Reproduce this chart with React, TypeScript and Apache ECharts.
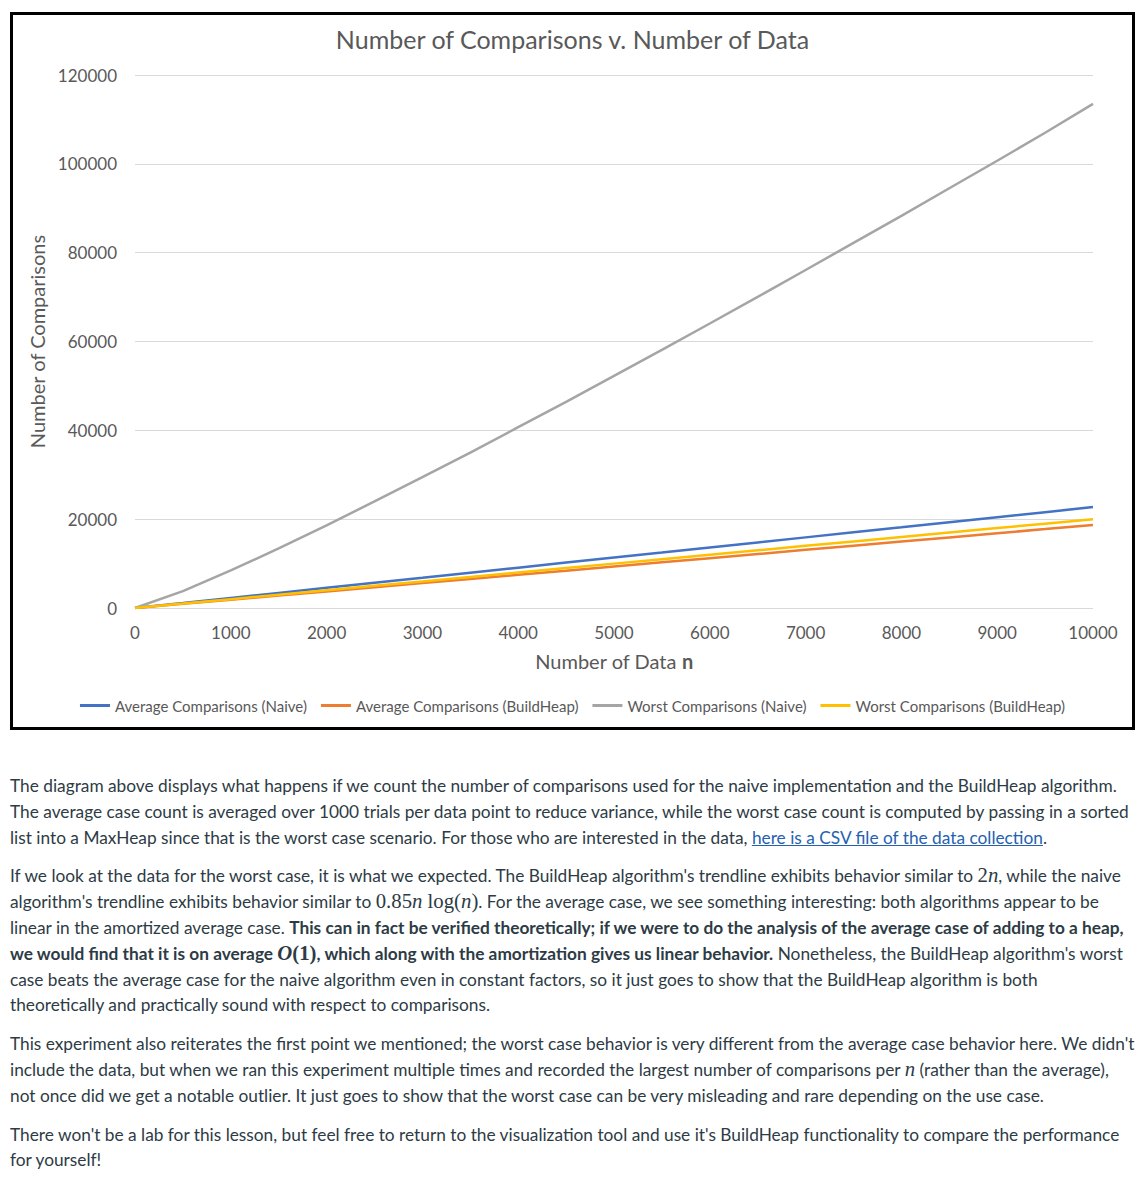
import React, { useEffect, useRef } from "react";
import * as echarts from "echarts";

const xValues = [0, 500, 1000, 1500, 2000, 2500, 3000, 3500, 4000, 4500, 5000, 5500, 6000, 6500, 7000, 7500, 8000, 8500, 9000, 9500, 10000];
const avgNaive = [0, 1130, 2270, 3400, 4540, 5680, 6810, 7950, 9080, 10220, 11360, 12490, 13630, 14760, 15900, 17040, 18170, 19310, 20440, 21580, 22720];
const avgBuildHeap = [0, 935, 1870, 2800, 3740, 4670, 5610, 6540, 7480, 8410, 9350, 10280, 11220, 12150, 13090, 14020, 14960, 15890, 16830, 17760, 18700];
const worstNaive = [0, 3800, 8450, 13400, 18600, 24000, 29450, 35000, 40700, 46400, 52250, 58100, 64050, 70050, 76100, 82200, 88300, 94500, 100700, 107000, 113500];
const worstBuildHeap = [0, 990, 1990, 2990, 3990, 4990, 5990, 6990, 7990, 8990, 9990, 10990, 11990, 12990, 13990, 14990, 15990, 16990, 17990, 18990, 19990];

const seriesNames = [
  "Average Comparisons (Naive)",
  "Average Comparisons (BuildHeap)",
  "Worst Comparisons (Naive)",
  "Worst Comparisons (BuildHeap)",
];
const seriesColors = ["#4472C4", "#ED7D31", "#A5A5A5", "#FFC000"];
const seriesValues = [avgNaive, avgBuildHeap, worstNaive, worstBuildHeap];

const chartTitle = "Number of Comparisons v. Number of Data";
const yAxisName = "Number of Comparisons";

const FONT = "Lato, 'Open Sans', sans-serif";

function Chart() {
  const ref = useRef<HTMLDivElement>(null);
  useEffect(() => {
    if (!ref.current) return;
    const chart = echarts.init(ref.current, null, { renderer: "svg" });
    chart.setOption({
      animation: false,
      textStyle: { fontFamily: FONT },
      title: {
        text: chartTitle,
        left: "center",
        top: 6,
        textStyle: { fontSize: 25, fontWeight: "normal", color: "#595959", fontFamily: FONT },
      },
      grid: { left: 122, right: 39, top: 60, bottom: 119 },
      legend: {
        bottom: 9,
        left: "center",
        icon: "rect",
        itemWidth: 30,
        itemHeight: 3,
        itemGap: 14,
        textStyle: { fontSize: 15, color: "#595959", fontFamily: FONT },
        data: seriesNames,
      },
      xAxis: {
        type: "value",
        min: 0,
        max: 10000,
        interval: 1000,
        name: "Number of Data {b|n}",
        nameLocation: "middle",
        nameGap: 43,
        nameTextStyle: {
          fontSize: 20,
          color: "#595959",
          fontFamily: FONT,
          rich: { b: { fontSize: 20, fontWeight: "bold", color: "#595959", fontFamily: FONT } },
        },
        axisLine: { show: false },
        axisTick: { show: false },
        splitLine: { show: false },
        axisLabel: { fontSize: 17, color: "#595959", margin: 16, fontFamily: FONT, formatter: (v: number) => String(v) },
      },
      yAxis: {
        type: "value",
        min: 0,
        max: 120000,
        interval: 20000,
        name: yAxisName,
        nameLocation: "middle",
        nameGap: 83,
        nameTextStyle: { fontSize: 20, color: "#595959", fontFamily: FONT },
        axisLine: { show: false },
        axisTick: { show: false },
        splitLine: { lineStyle: { color: "#D9D9D9", width: 1 } },
        axisLabel: { fontSize: 17, color: "#595959", margin: 18, fontFamily: FONT, formatter: (v: number) => String(v) },
      },
      series: seriesNames.map((name, i) => ({
        name,
        type: "line",
        showSymbol: false,
        symbol: "none",
        color: seriesColors[i],
        lineStyle: { width: 2.5, color: seriesColors[i] },
        data: xValues.map((x, j) => [x, seriesValues[i][j]]),
      })),
    });
    return () => chart.dispose();
  }, []);
  return <div ref={ref} style={{ width: 1119, height: 712 }} />;
}

const M = ({ children }: { children: React.ReactNode }) => (
  <span style={{ fontFamily: "'Liberation Serif', 'DejaVu Serif', serif", fontSize: "1.2em" }}>{children}</span>
);
const I = ({ children }: { children: React.ReactNode }) => <i>{children}</i>;

const lineStyle: React.CSSProperties = { whiteSpace: "nowrap", lineHeight: "25.8px" };
const paraStyle: React.CSSProperties = { margin: "0 0 13px 0" };

export default function App() {
  return (
    <div style={{ fontFamily: "Lato, sans-serif", color: "#2D3B45" }}>
      <div
        style={{
          marginLeft: 2,
          marginTop: 4,
          width: 1119,
          height: 712,
          border: "3px solid #000",
          background: "#fff",
        }}
      >
        <Chart />
      </div>
      <div style={{ marginTop: 43, marginLeft: 2, fontSize: 17.3 }}>
        <div style={paraStyle}>
          <div style={lineStyle}>The diagram above displays what happens if we count the number of comparisons used for the naive implementation and the BuildHeap algorithm.</div>
          <div style={lineStyle}>The average case count is averaged over 1000 trials per data point to reduce variance, while the worst case count is computed by passing in a sorted</div>
          <div style={lineStyle}>
            list into a MaxHeap since that is the worst case scenario. For those who are interested in the data,{" "}
            <span style={{ color: "#2462B0", textDecoration: "underline" }}>here is a CSV file of the data collection</span>.
          </div>
        </div>
        <div style={paraStyle}>
          <div style={lineStyle}>
            If we look at the data for the worst case, it is what we expected. The BuildHeap algorithm's trendline exhibits behavior similar to{" "}
            <M>2<I>n</I></M>, while the naive
          </div>
          <div style={lineStyle}>
            algorithm's trendline exhibits behavior similar to <M>0.85<I>n</I> log(<I>n</I>)</M>. For the average case, we see something interesting: both algorithms appear to be
          </div>
          <div style={lineStyle}>
            linear in the amortized average case. <b>This can in fact be verified theoretically; if we were to do the analysis of the average case of adding to a heap,</b>
          </div>
          <div style={lineStyle}>
            <b>
              we would find that it is on average <M><I>O</I>(1)</M>, which along with the amortization gives us linear behavior.
            </b>{" "}
            Nonetheless, the BuildHeap algorithm's worst
          </div>
          <div style={lineStyle}>case beats the average case for the naive algorithm even in constant factors, so it just goes to show that the BuildHeap algorithm is both</div>
          <div style={lineStyle}>theoretically and practically sound with respect to comparisons.</div>
        </div>
        <div style={paraStyle}>
          <div style={lineStyle}>This experiment also reiterates the first point we mentioned; the worst case behavior is very different from the average case behavior here. We didn't</div>
          <div style={lineStyle}>
            include the data, but when we ran this experiment multiple times and recorded the largest number of comparisons per <M><I>n</I></M> (rather than the average),
          </div>
          <div style={lineStyle}>not once did we get a notable outlier. It just goes to show that the worst case can be very misleading and rare depending on the use case.</div>
        </div>
        <div style={paraStyle}>
          <div style={lineStyle}>There won't be a lab for this lesson, but feel free to return to the visualization tool and use it's BuildHeap functionality to compare the performance</div>
          <div style={lineStyle}>for yourself!</div>
        </div>
      </div>
    </div>
  );
}
